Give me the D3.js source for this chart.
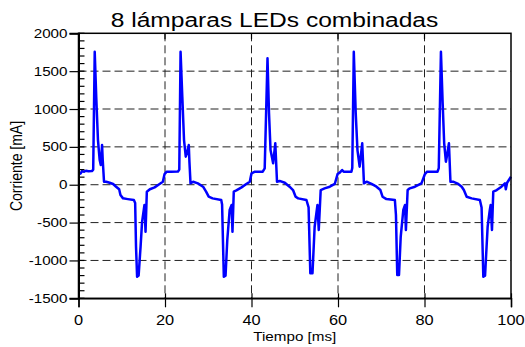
<!DOCTYPE html>
<html>
<head>
<meta charset="utf-8">
<script src="https://cdn.jsdelivr.net/npm/d3@7"></script>
<style>
  html, body { margin: 0; padding: 0; background: #fff; }
  svg { display: block; }
  text { font-family: "Liberation Sans", Arial, sans-serif; fill: #000; }
</style>
</head>
<body>
<svg id="chart" width="525" height="347"></svg>
<script>
// ---- Data ----
const title = "8 lámparas LEDs combinadas";
const xLabel = "Tiempo [ms]";
const yLabel = "Corriente [mA]";
const xTicks = [0, 20, 40, 60, 80, 100];
const yTicks = [-1500, -1000, -500, 0, 500, 1000, 1500, 2000];

// time in ms
const timeMs = [
  0, 0.5, 0.8, 1.3, 1.7, 2.3, 3.1, 3.4, 3.75, 4.1, 4.5, 4.9, 5.15, 5.45, 5.6, 5.9, 6.4, 7.2, 8.0, 8.7,
  9.4, 9.7, 10.3, 11.4, 12.8, 13.1, 13.3, 13.55, 13.9, 14.35, 14.7, 15.25, 15.5, 15.8, 16.5, 17.6, 18.75, 19.5,
  19.9, 20.4, 21.4, 23.0, 23.3, 23.6, 24.0, 24.4, 24.8, 25.1, 25.5, 25.65, 25.9, 26.5, 27.6, 28.8,
  29.5, 30.1, 31.0, 33.0, 33.2, 33.6, 34.0, 34.4, 34.95, 35.4, 35.6, 35.9, 36.5, 37.7, 38.8, 39.6,
  40.0, 40.8, 42.6, 43.05, 43.7, 44.05, 44.4, 45.0, 45.5, 45.9, 46.5, 47.7, 48.8, 49.6, 50.2, 50.8,
  52.7, 53.2, 53.6, 54.1, 54.6, 55.25, 55.55, 56.0, 56.9, 58.1, 59.25,
  59.9, 60.4, 60.95, 61.3, 63.1, 63.3, 63.65, 64.1, 64.5, 65.0, 65.6, 66.0, 66.6, 67.75, 68.9, 69.8,
  70.3, 71.2, 73.15, 73.4, 73.7, 74.1, 74.5, 75.1, 75.5, 75.7, 76.1, 76.6, 77.8, 79.3,
  80.1, 80.6, 83.0, 83.3, 83.8, 84.2, 84.55, 84.95, 85.3, 85.65, 86.0, 86.6, 87.8, 88.6, 89.1, 89.75,
  90.9, 92.8, 93.2, 93.6, 94.0, 94.6, 95.1, 95.3, 95.6, 95.9, 96.7, 97.8, 98.6, 98.8, 99.1, 100
];
// current in mA
const currentMa = [
  135, 150, 180, 172, 185, 178, 180, 200, 1757, 1163, 590, 326, 260, 524, 330, 40, 40, 26, 10, -26,
  -60, -136, -180, -190, -202, -240, -820, -1215, -1200, -820, -490, -268, -620, -92, -60, -35, 10, 40,
  141, 172, 172, 175, 200, 1757, 1163, 590, 370, 420, 524, 300, 18, 40, 18, -26,
  -92, -158, -180, -202, -260, -1215, -1200, -730, -334, -268, -620, -92, -75, -35, 10, 40,
  150, 172, 172, 216, 1670, 943, 458, 283, 547, 40, 50, 26, -26, -70, -158, -180,
  -202, -300, -1170, -1170, -555, -268, -598, -70, -48, -26, 10,
  141, 160, 194, 172, 172, 220, 1757, 943, 458, 238, 547, 18, 40, 10, -26, -70,
  -158, -190, -202, -400, -1193, -1193, -687, -334, -268, -598, -70, -48, -26, 18,
  141, 172, 172, 220, 1757, 1075, 547, 304, 420, 547, 40, 40, 10, -26, -70, -158,
  -180, -202, -300, -1215, -1200, -555, -334, -268, -598, -92, -70, -26, 18, -60, 26, 106
];

// ---- Layout ----
const svg = d3.select("#chart");
const pLeft = 78.5, pRight = 511, pTop = 33.3, pBottom = 298.3;
const x = d3.scaleLinear().domain([0, 100]).range([pLeft, pRight]);
const y = d3.scaleLinear().domain([-1500, 2000]).range([pBottom, pTop]);
const SX = 1.17; // horizontal stretch of the original text

function stretchedText(g, tx, ty, str, size, anchor) {
  return g.append("text")
    .attr("transform", `translate(${tx},${ty}) scale(${SX},1)`)
    .attr("text-anchor", anchor)
    .style("font-size", size + "px")
    .text(str);
}

// grid
const grid = svg.append("g");
grid.selectAll("line.h").data(yTicks.filter(d => d > -1500 && d < 2000)).join("line")
  .attr("class", "h")
  .attr("x1", pLeft).attr("x2", pRight)
  .attr("y1", d => y(d)).attr("y2", d => y(d))
  .attr("stroke", "#222").attr("stroke-width", 1).attr("stroke-dasharray", "8,4");
grid.selectAll("line.v").data(xTicks.filter(d => d > 0 && d < 100)).join("line")
  .attr("class", "v")
  .attr("y1", pTop).attr("y2", pBottom)
  .attr("x1", d => x(d)).attr("x2", d => x(d))
  .attr("stroke", "#222").attr("stroke-width", 1).attr("stroke-dasharray", "8,4");

// data line
const pts = timeMs.map((t, i) => [t, currentMa[i]]);
svg.append("path")
  .datum(pts)
  .attr("fill", "none")
  .attr("stroke", "#0000ff")
  .attr("stroke-width", 2.5)
  .attr("stroke-linejoin", "round")
  .attr("d", d3.line().x(d => x(d[0])).y(d => y(d[1])));

// frame
svg.append("rect").attr("x", pLeft).attr("y", pTop)
  .attr("width", pRight - pLeft).attr("height", pBottom - pTop)
  .attr("fill", "none").attr("stroke", "#000").attr("stroke-width", 1.5);

// left axis (thicker) with ticks
const yAxis = d3.axisLeft(y).tickValues(yTicks).tickSize(9).tickPadding(2).tickFormat(d3.format("d"));
const gy = svg.append("g").attr("transform", `translate(${pLeft},0)`).call(yAxis);
gy.select(".domain").attr("stroke-width", 2);
gy.selectAll(".tick line").attr("stroke-width", 1.2);
gy.selectAll(".tick text").remove();
yTicks.forEach(v => stretchedText(svg, pLeft - 11, y(v) + 4.5, String(v), 13, "end"));
// minor inward ticks
const yMinor = d3.range(-1500, 2001, 100);
svg.append("g").selectAll("line").data(yMinor).join("line")
  .attr("x1", pLeft).attr("x2", pLeft + 6)
  .attr("y1", d => y(d)).attr("y2", d => y(d))
  .attr("stroke", "#000").attr("stroke-width", 1.2);

// bottom axis with crossing ticks
const xAxis = d3.axisBottom(x).tickValues(xTicks).tickSize(9).tickPadding(2).tickFormat(d3.format("d"));
const gx = svg.append("g").attr("transform", `translate(0,${pBottom})`).call(xAxis);
gx.select(".domain").attr("stroke-width", 1.5);
gx.selectAll(".tick line").attr("y1", -5).attr("stroke-width", 1.2);
gx.selectAll(".tick text").remove();
xTicks.forEach(v => stretchedText(svg, x(v), 325, String(v), 14, "middle"));
// top inward ticks
svg.append("g").selectAll("line").data(xTicks.filter(d => d > 0 && d < 100)).join("line")
  .attr("x1", d => x(d)).attr("x2", d => x(d))
  .attr("y1", pTop).attr("y2", pTop + 6)
  .attr("stroke", "#000").attr("stroke-width", 1.2);

// titles
stretchedText(svg, 274.5, 27, title, 21, "middle");
stretchedText(svg, (pLeft + pRight) / 2, 341, xLabel, 13, "middle");
svg.append("text")
  .attr("transform", `translate(22,166) rotate(-90) scale(1,${SX})`)
  .attr("text-anchor", "middle")
  .style("font-size", "14px")
  .text(yLabel);
</script>
</body>
</html>
